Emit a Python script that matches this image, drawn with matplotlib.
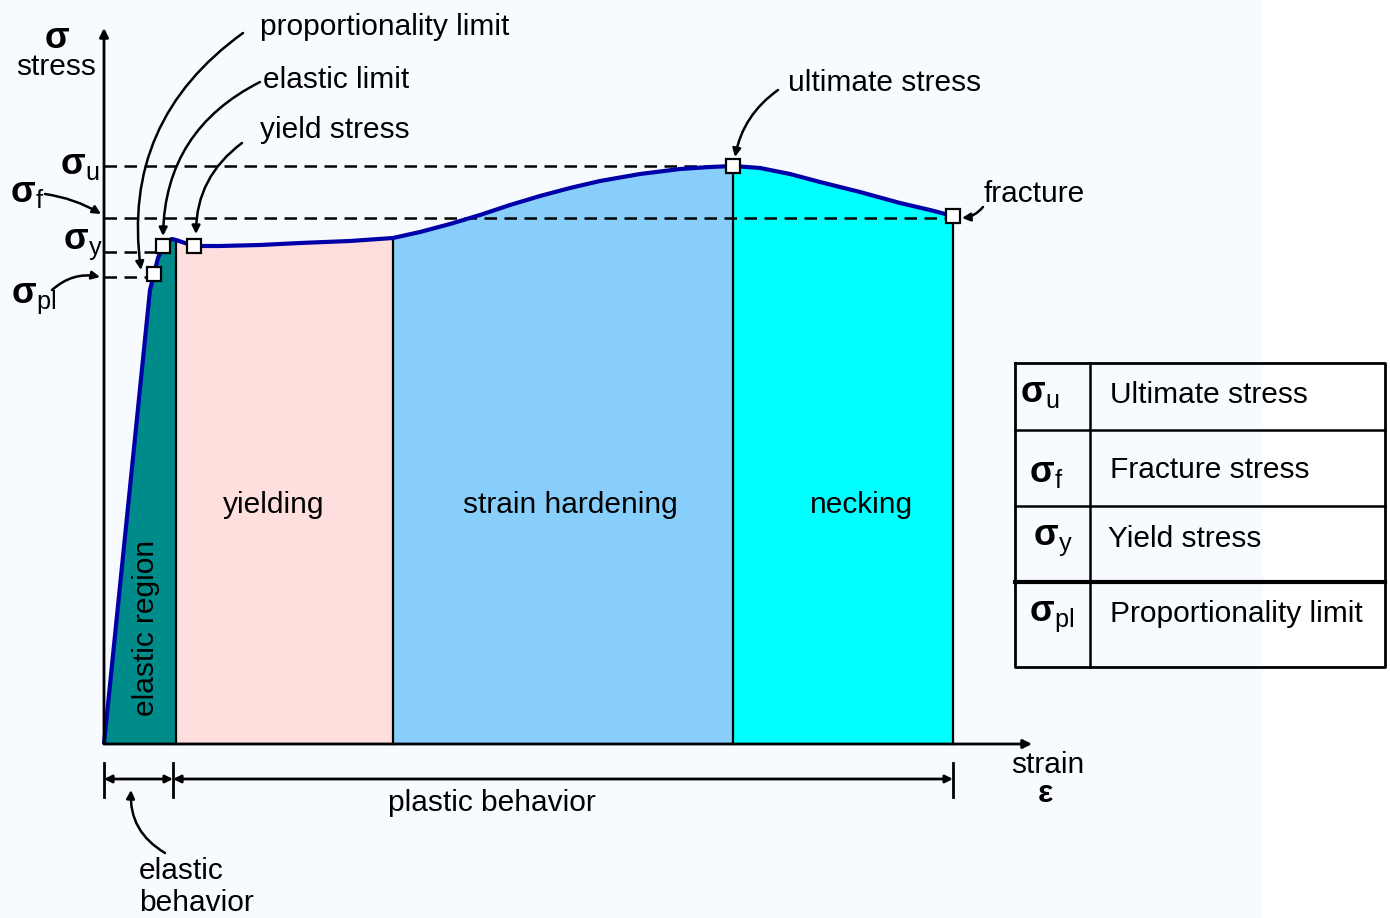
import numpy as np
import matplotlib.pyplot as plt
from matplotlib.patches import FancyArrowPatch, Rectangle

plt.rcParams['font.family'] = ['Liberation Sans', 'DejaVu Sans']
plt.rcParams['mathtext.fontset'] = 'custom'
plt.rcParams['mathtext.rm'] = 'Liberation Sans'
plt.rcParams['mathtext.bf'] = 'Liberation Sans:bold'
plt.rcParams['mathtext.it'] = 'Liberation Sans'

# stress-strain curve (strain, stress) in arbitrary units
strain = [0, 46, 50, 54, 59, 64, 68, 72, 81, 90, 116, 156, 196, 246, 289,
          316, 346, 376, 406, 436, 466, 496, 536, 576, 606, 629,
          656, 686, 716, 756, 796, 826, 849]
stress = [0, 454, 470, 486, 498, 503, 505, 504, 501, 498, 498, 499, 501, 503, 506,
          512, 520, 529, 539, 548, 556, 563, 570, 575, 577, 578,
          576, 570, 562, 552, 541, 534, 528]

# region boundaries (strain)
regions = ["elastic", "yielding", "strain hardening", "necking"]
region_edges = [0, 72, 289, 629, 849]
region_colors = ["#008b8b", "#ffdede", "#87cefa", "#00ffff"]

# characteristic points
pl_pt = (50, 470)     # proportionality limit
el_pt = (59, 498)     # elastic limit
ys_pt = (90, 498)     # yield stress
ult_pt = (629, 578)   # ultimate stress
fr_pt = (849, 528)    # fracture

sigma_u, sigma_f, sigma_y, sigma_pl = 578, 526, 492, 467

table_sub = ["u", "f", "y", "pl"]
table_names = ["Ultimate stress", "Fracture stress", "Yield stress", "Proportionality limit"]

fig = plt.figure(figsize=(13.9, 9.18), dpi=100, facecolor="white")
fig.patches.append(Rectangle((0, 0), 1262 / 1390, 1, transform=fig.transFigure,
                             color="#f7fbff", zorder=-10))
ax = fig.add_axes([0, 0, 1, 1])
ax.set_xlim(-104, 1286)
ax.set_ylim(-174, 744)
ax.axis("off")


def P(x, y):
    # picture pixel -> data coords (layout helper)
    return x - 104, 744 - y


s = np.array(strain, float)
t = np.array(stress, float)

# coloured regions under the curve
for i, c in enumerate(region_colors):
    a, b = region_edges[i], region_edges[i + 1]
    m = (s >= a) & (s <= b)
    ax.fill_between(s[m], 0, t[m], color=c, lw=0, zorder=1)
    if i > 0:
        ax.plot([a, a], [0, np.interp(a, s, t)], color="k", lw=1.6, zorder=2)
ax.plot([849, 849], [0, 528], color="k", lw=1.6, zorder=2)

ax.plot(s, t, color="#0000a8", lw=3, zorder=3, solid_capstyle="butt")

# dashed reference lines
dash = dict(color="k", lw=1.8, ls=(0, (5, 3)), zorder=2)
ax.plot([0, ult_pt[0]], [sigma_u, sigma_u], **dash)
ax.plot([0, fr_pt[0]], [sigma_f, sigma_f], **dash)
ax.plot([0, 52], [sigma_y, sigma_y], **dash)
ax.plot([0, 45], [sigma_pl, sigma_pl], **dash)

# markers
for p in [pl_pt, el_pt, ys_pt, ult_pt, fr_pt]:
    ax.plot(*p, marker="s", ms=9.5, mfc="white", mec="k", mew=1.6, zorder=5)

# axes arrows
ax.annotate("", xy=P(104, 28), xytext=(0, 0),
            arrowprops=dict(arrowstyle="-|>", lw=2, color="k", mutation_scale=13,
                            shrinkA=0, shrinkB=0), zorder=4)
ax.annotate("", xy=P(1032, 744), xytext=(0, 0),
            arrowprops=dict(arrowstyle="-|>", lw=2, color="k", mutation_scale=13,
                            shrinkA=0, shrinkB=0), zorder=4)

fs = 21.5
ax.text(*P(57, 48), "σ", fontsize=26, fontweight="bold", ha="center", va="baseline")
ax.text(*P(56, 67), "stress", fontsize=fs, ha="center", va="center")
ax.text(*P(1048, 765), "strain", fontsize=fs, ha="center", va="center")
ax.text(*P(1045, 794), "ε", fontsize=23, fontweight="bold", ha="center", va="center")


def sig(x, y, sub, size=26):
    ax.text(*P(x, y), r"$\mathbf{σ}_{\mathrm{%s}}$" % sub, fontsize=size,
            ha="left", va="center")


sig(60, 165, "u")
sig(10, 192, "f")
sig(63, 244, "y")
sig(11, 299, "pl")

# annotation texts
ax.text(*P(260, 27), "proportionality limit", fontsize=fs, va="center")
ax.text(*P(263, 80), "elastic limit", fontsize=fs, va="center")
ax.text(*P(260, 130), "yield stress", fontsize=fs, va="center")
ax.text(*P(788, 83), "ultimate stress", fontsize=fs, va="center")
ax.text(*P(984, 194), "fracture", fontsize=fs, va="center")
ax.text(*P(274, 505), "yielding", fontsize=fs, ha="center", va="center")
ax.text(*P(570, 505), "strain hardening", fontsize=fs, ha="center", va="center")
ax.text(*P(862, 505), "necking", fontsize=fs, ha="center", va="center")
ax.text(*P(146, 628), "elastic region", fontsize=fs, ha="center", va="center",
        rotation=90)
ax.text(*P(492, 803), "plastic behavior", fontsize=fs, ha="center", va="center")
ax.text(*P(139, 871), "elastic", fontsize=fs, va="center")
ax.text(*P(139, 903), "behavior", fontsize=fs, va="center")


def curved(a, b, rad, hl=12):
    ax.add_patch(FancyArrowPatch(P(*a), P(*b), connectionstyle=f"arc3,rad={rad}",
                                 arrowstyle="-|>", mutation_scale=hl, lw=1.8,
                                 color="k", shrinkA=0, shrinkB=0, zorder=6))


curved((243, 33), (141, 270), 0.3)
curved((260, 82), (163, 236), 0.3)
curved((242, 143), (196, 234), 0.25)
curved((778, 90), (735, 157), 0.2)
curved((983, 207), (962, 218), -0.2)
curved((45, 194), (101, 214), -0.1)
curved((52, 290), (100, 277), -0.25)
curved((165, 853), (131, 790), -0.3)

# dimension lines below the axis
for x in [0, 69, 849]:
    ax.plot([x, x], [-19, -53], color="k", lw=2)
dim = dict(arrowstyle="<|-|>", lw=2, color="k", mutation_scale=11, shrinkA=0, shrinkB=0)
ax.annotate("", xy=(0, -35), xytext=(69, -35), arrowprops=dim)
ax.annotate("", xy=(69, -35), xytext=(849, -35), arrowprops=dim)

# legend table
x0, x1, xd = 1015, 1385, 1090
ys = [363, 430, 506, 582, 667]
ax.plot([P(x0, 0)[0], P(x1, 0)[0], P(x1, 0)[0], P(x0, 0)[0], P(x0, 0)[0]],
        [P(0, 363)[1], P(0, 363)[1], P(0, 667)[1], P(0, 667)[1], P(0, 363)[1]],
        color="k", lw=2)
for y, w in zip(ys[1:-1], [1.8, 1.8, 3]):
    ax.plot([P(x0, 0)[0], P(x1, 0)[0]], [P(0, y)[1]] * 2, color="k", lw=w)
ax.plot([P(xd, 0)[0]] * 2, [P(0, 363)[1], P(0, 667)[1]], color="k", lw=1.8)

sig_pos = [(1020, 393), (1029, 472), (1033, 541), (1029, 616)]
name_pos = [(1110, 395), (1110, 470), (1108, 539), (1110, 614)]
for sub, name, sp, npos in zip(table_sub, table_names, sig_pos, name_pos):
    sig(sp[0], sp[1], sub)
    ax.text(*P(*npos), name, fontsize=fs, va="center")

fig.savefig("out.png", dpi=100, facecolor=fig.get_facecolor())
